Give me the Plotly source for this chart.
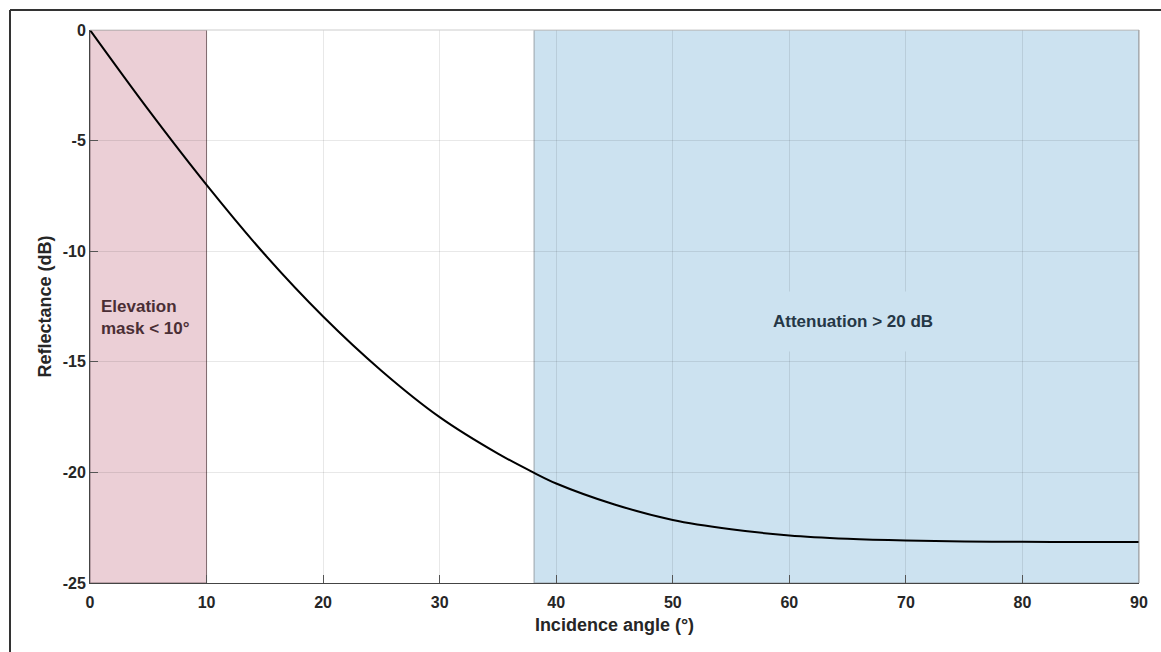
import plotly.graph_objects as go

# Data
angle_deg = [0, 5, 10, 15, 20, 25, 30, 35, 38.1, 40, 45, 50, 55, 60, 65, 70, 75, 80, 85, 90]
reflectance_db = [0, -3.6, -7.0, -10.15, -12.95, -15.4, -17.5, -19.15, -20.02, -20.5,
                  -21.45, -22.15, -22.57, -22.85, -23.0, -23.08, -23.12, -23.14, -23.15, -23.15]
x_ticks = [0, 10, 20, 30, 40, 50, 60, 70, 80, 90]
y_ticks = [-25, -20, -15, -10, -5, 0]
mask_region = [0, 10]
atten_region = [38.1, 90]
mask_label = "Elevation<br>mask < 10°"
atten_label = "Attenuation > 20 dB"

fig = go.Figure()
fig.add_trace(go.Scatter(x=angle_deg, y=reflectance_db, mode="lines",
                         line=dict(color="black", width=2, shape="spline", smoothing=1.0),
                         showlegend=False, hoverinfo="skip"))

fig.add_shape(type="rect", xref="x", yref="y", x0=mask_region[0], x1=mask_region[1], y0=-25, y1=0,
              fillcolor="#EBCFD6", line=dict(color="#8a7378", width=1), layer="below")
fig.add_shape(type="rect", xref="x", yref="y", x0=atten_region[0], x1=atten_region[1], y0=-25, y1=0,
              fillcolor="#CCE2F0", line=dict(color="#9aa3aa", width=1), layer="below")

fig.add_annotation(x=0.8, y=-13.0, xref="x", yref="y", text=mask_label, showarrow=False,
                   xanchor="left", yanchor="middle", align="left",
                   font=dict(family="Liberation Sans, Arial", size=17, color="#4a2e35", weight="bold"))
fig.add_annotation(x=65.5, y=-13.2, xref="x", yref="y", text=atten_label, showarrow=False,
                   xanchor="center", yanchor="middle", bgcolor="#CCE2F0", borderpad=20,
                   font=dict(family="Liberation Sans, Arial", size=17, color="#253746", weight="bold"))

# figure border (top and left lines)
ml, mr, mt, mb = 90, 22, 30, 69
W, H = 1161, 652
pw, ph = W - ml - mr, H - mt - mb
bx = (10 - ml) / pw
by = 1 + (mt - 10) / ph
fig.add_shape(type="line", xref="paper", yref="paper", x0=bx, x1=bx, y0=-0.3, y1=by,
              line=dict(color="#333333", width=2))
fig.add_shape(type="line", xref="paper", yref="paper", x0=bx, x1=1.2, y0=by, y1=by,
              line=dict(color="#333333", width=2))

axis_font = dict(family="Liberation Sans, Arial", size=16, color="#262626", weight="bold")
title_font = dict(family="Liberation Sans, Arial", size=18, color="#262626", weight="bold")
fig.update_xaxes(range=[0, 90], tickvals=x_ticks, ticktext=[str(v) for v in x_ticks],
                 showgrid=True, gridcolor="rgba(0,0,0,0.09)", gridwidth=1,
                 ticks="inside", ticklen=8, tickcolor="#555555", ticklabelstandoff=5,
                 showline=True, linecolor="#444444", linewidth=1, mirror=False,
                 zeroline=False, tickfont=axis_font,
                 title=dict(text="Incidence angle (°)", standoff=8, font=title_font))
fig.update_yaxes(range=[-25, 0], tickvals=y_ticks, ticktext=[str(v) for v in y_ticks],
                 showgrid=True, gridcolor="rgba(0,0,0,0.09)", gridwidth=1,
                 ticks="inside", ticklen=8, tickcolor="#555555",
                 showline=True, linecolor="#444444", linewidth=1,
                 zeroline=False, tickfont=axis_font,
                 title=dict(text="Reflectance (dB)", standoff=6, font=title_font))

# light top/right frame
fig.add_shape(type="line", xref="paper", yref="paper", x0=0, x1=1, y0=1, y1=1,
              line=dict(color="#cccccc", width=1))
fig.add_shape(type="line", xref="paper", yref="paper", x0=1, x1=1, y0=0, y1=1,
              line=dict(color="#999999", width=1))

fig.update_layout(width=W, height=H, margin=dict(l=ml, r=mr, t=mt, b=mb),
                  paper_bgcolor="white", plot_bgcolor="white")

fig.write_html("out.html")
